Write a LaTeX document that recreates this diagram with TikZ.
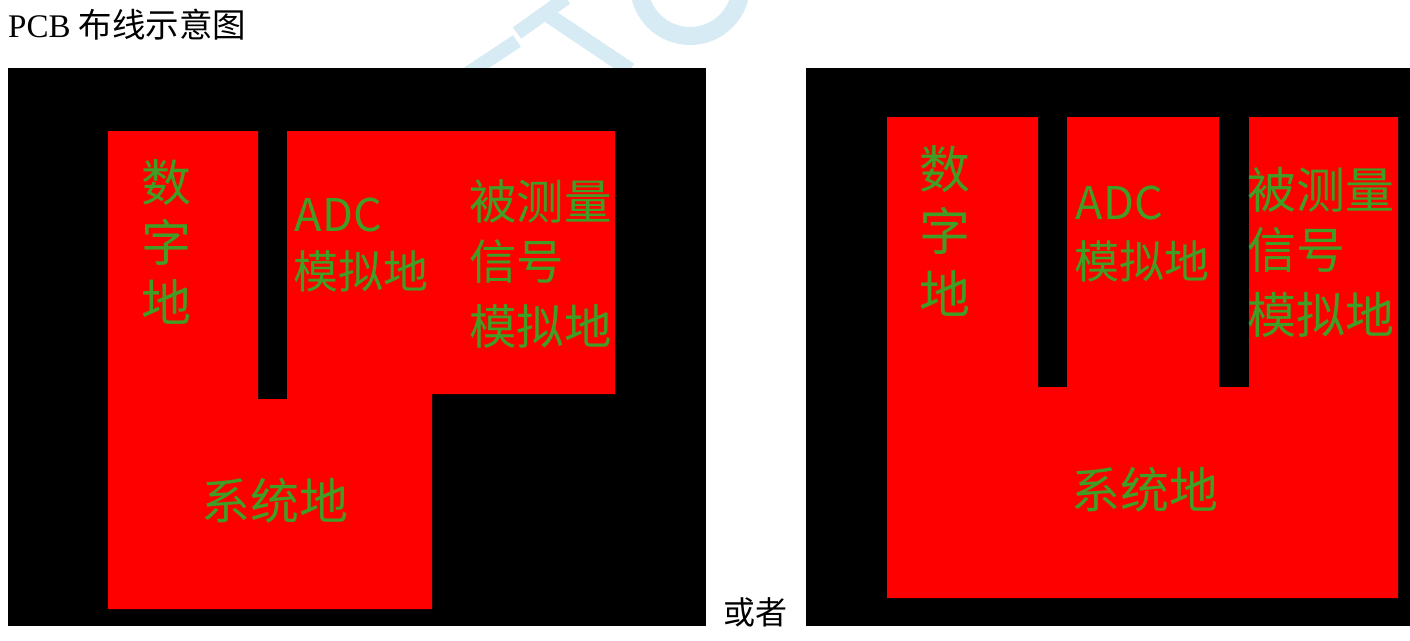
\documentclass[tikz,border=0pt]{standalone}
\usepackage{fontspec}
\setmainfont{Liberation Serif}
\newfontfamily\cjk{Noto Sans CJK SC}
\definecolor{pcbred}{RGB}{255,0,0}
\definecolor{lbl}{RGB}{64,158,36}
\definecolor{wm}{RGB}{214,235,243}
\tikzset{
  panel/.style={fill=black, draw=none},
  copper/.style={fill=pcbred, draw=none},
  lab/.style={anchor=base west, inner sep=0pt, text=lbl, font=\cjk\fontsize{#1}{#1}\selectfont},
  wmark/.style={draw=wm, line width=14pt},
}
\begin{document}
\begin{tikzpicture}[x=1pt,y=-1pt]
\useasboundingbox (0,0) rectangle (1410,640);
\fill[white] (0,0) rectangle (1410,640);
% watermark
\begin{scope}
\clip (0,0) rectangle (1410,640);
\draw[wmark] (458,80) -- (517,41);
\draw[wmark] (517,33) -- (566,-2);
\draw[wmark, line width=15pt] (548,15) -- (630,70);
\draw[wmark, line width=18pt] (690,-15) circle[radius=51];
\end{scope}
% title
\node[anchor=base west, inner sep=0pt, font=\fontsize{33}{40}\selectfont] (title) at (8,37) {PCB {\cjk\fontsize{33.5}{40}\selectfont 布线示意图}};
\node[anchor=base west, inner sep=0pt, font=\cjk\fontsize{32}{38}\selectfont] (or) at (723,624) {或者};
% left panel
\fill[panel] (8,68) rectangle (706,626);
\fill[copper] (108,131) -- (258,131) -- (258,399) -- (287,399) -- (287,131) -- (615,131) -- (615,394) -- (432,394) -- (432,609) -- (108,609) -- cycle;
\node[lab=50] (l1) at (141,201) {数};
\node[lab=50] (l2) at (141,261) {字};
\node[lab=50] (l3) at (141,321) {地};
\node[lab=45] (l4) at (294.5,231) {ADC};
\node[lab=45] (l5) at (293,288) {模拟地};
\node[lab=47.5] (l6) at (469,219) {被测量};
\node[lab=47.5] (l7) at (469,279) {信号};
\node[lab=47.5] (l8) at (469,344) {模拟地};
\node[lab=49] (l9) at (201,519) {系统地};
% right panel
\fill[panel] (806,68) rectangle (1410,626);
\fill[copper] (887,117) -- (1038,117) -- (1038,387) -- (1067,387) -- (1067,117) -- (1219,117) -- (1219,387) -- (1249,387) -- (1249,117) -- (1398,117) -- (1398,598) -- (887,598) -- cycle;
\node[lab=51] (r1) at (919,188) {数};
\node[lab=51] (r2) at (919,250) {字};
\node[lab=51] (r3) at (919,313) {地};
\node[lab=45] (r4) at (1075.5,219) {ADC};
\node[lab=45] (r5) at (1074,278) {模拟地};
\node[lab=49] (r6) at (1247,208) {被测量};
\node[lab=49] (r7) at (1247,268) {信号};
\node[lab=49] (r8) at (1247,333) {模拟地};
\node[lab=49] (r9) at (1071,508) {系统地};
\end{tikzpicture}
\end{document}
